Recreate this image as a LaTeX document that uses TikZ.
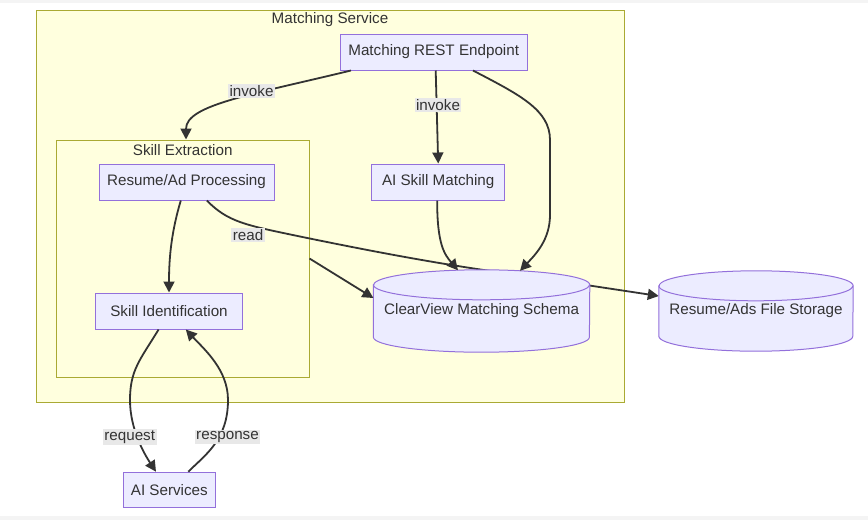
\documentclass[tikz,border=0pt]{standalone}
\usepackage{fontspec}
\setmainfont{Liberation Sans}
\usepackage{xcolor}
\usetikzlibrary{arrows.meta, calc}

\definecolor{clusterfill}{HTML}{FFFFDE}
\definecolor{clusterline}{HTML}{AAAA33}
\definecolor{nodefill}{HTML}{ECECFF}
\definecolor{nodeline}{HTML}{9370DB}
\definecolor{edgegray}{HTML}{333333}
\definecolor{textgray}{HTML}{333333}
\definecolor{labelbg}{HTML}{E8E8E8}
\definecolor{bandgray}{HTML}{F4F4F4}

\begin{document}
\begin{tikzpicture}[
  x=1pt, y=-1pt,
  % Base style for boxes
  basebox/.style={draw=nodeline, fill=nodefill, line width=1pt, text=textgray,
    font=\fontsize{15.2}{18}\selectfont, minimum height=36pt, inner sep=0pt},
  % Subgraph frames
  cluster/.style={draw=clusterline, fill=clusterfill, line width=1pt, inner sep=0pt},
  clustertitle/.style={text=textgray, font=\fontsize{15.2}{18}\selectfont, inner sep=0pt},
  % Databases
  dbspace/.style={draw=none, inner sep=0pt},
  dbshape/.style={draw=nodeline, fill=nodefill, line width=1pt},
  dbtext/.style={text=textgray, font=\fontsize{15.2}{18}\selectfont, inner sep=0pt},
  % Connectors and their labels
  flow/.style={draw=edgegray, line width=1.8pt, -{Triangle[length=11pt,width=11pt]}},
  edgelabel/.style={fill=labelbg, text=textgray, font=\fontsize{15.2}{18}\selectfont, inner sep=1.5pt},
]

  % Page and grey bands
  \useasboundingbox (0,0) rectangle (868,520);
  \fill[white] (0,0) rectangle (868,520);
  \fill[bandgray] (0,0) rectangle (868,2.5);
  \fill[bandgray] (0,515.5) rectangle (868,520);

  % Matching service cluster
  \node[cluster, minimum width=588pt, minimum height=392pt] (service) at (330,206) {};
  \node[clustertitle] (servicetitle) at (330,20) {Matching Service};

  % Skill extraction cluster
  \node[cluster, minimum width=253pt, minimum height=237pt] (skill) at (182.5,258.5) {};
  \node[clustertitle] (skilltitle) at (182.7,150) {Skill Extraction};

  % Blocks
  \node[basebox, minimum width=187pt] (rest) at (433.7,52) {Matching REST Endpoint};
  \node[basebox, minimum width=175pt] (proc) at (186.5,182) {Resume/Ad Processing};
  \node[basebox, minimum width=133pt] (aimatch) at (438.2,182) {AI Skill Matching};
  \node[basebox, minimum width=147pt] (skillid) at (169,311) {Skill Identification};
  \node[basebox, minimum width=92pt, minimum height=35pt] (aisvc) at (169.3,489.7) {AI Services};

  % Space taken by the databases
  \node[dbspace, minimum width=216pt, minimum height=82pt] (schema) at (481.6,311) {};
  \node[dbspace, minimum width=194pt, minimum height=80pt] (storage) at (756,311) {};

  % Read edge runs behind the schema
  \draw[flow] ([xshift=20.3pt]proc.south) .. controls (228,222) and (245,225) .. (300,236.5)
    .. controls (380,253) and (450,266) .. (520,275) -- ([yshift=15pt]storage.west);

  % Cylinders
  \foreach \db/\rx in {schema/108, storage/97} {
    \path[dbshape] ([yshift=-15pt]\db.north west) -- ([yshift=15pt]\db.south west)
      arc[start angle=180, end angle=360, x radius=\rx pt, y radius=15pt]
      -- ([yshift=-15pt]\db.north east)
      arc[start angle=0, end angle=180, x radius=\rx pt, y radius=15pt] -- cycle;
    \draw[dbshape, fill=none] ([yshift=-15pt]\db.north west)
      arc[start angle=180, end angle=360, x radius=\rx pt, y radius=15pt];
  }
  \node[dbtext] (schematext) at (schema.center) {ClearView Matching Schema};
  \node[dbtext] (storagetext) at (storage.center) {Resume/Ads File Storage};

  % Connectors
  \draw[flow] ([xshift=-82.7pt]rest.south) .. controls (250,95) and (186,105) .. ([xshift=3.5pt]skill.north);
  \draw[flow] ([xshift=2pt]rest.south) -- (aimatch.north);
  \draw[flow] ([xshift=39.3pt]rest.south) .. controls (520,95) and (550,110) .. (550,140)
    -- (550,215) .. controls (550,240) and (535,255) .. ([xshift=38.4pt,yshift=-1pt]schema.north);
  \draw[flow] ([xshift=-5.7pt]proc.south) .. controls (172,230) and (169,255) .. (skillid.north);
  \draw[flow] (skill.east) -- ([yshift=13pt]schema.west);
  \draw[flow] ([xshift=-1pt]aimatch.south) .. controls (437,245) and (445,255) .. ([xshift=-23.6pt,yshift=-0.5pt]schema.north);
  \draw[flow] ([xshift=-10.4pt]skillid.south) .. controls (140,360) and (130,370) .. (130,400)
    .. controls (130,430) and (145,455) .. ([xshift=-13.3pt]aisvc.north);
  \draw[flow] ([xshift=19pt]aisvc.north) .. controls (205,455) and (228,440) .. (228,400)
    .. controls (228,370) and (205,350) .. ([xshift=16.8pt]skillid.south);

  % Edge labels
  \node[edgelabel] (invokeone) at (251.5,91) {invoke};
  \node[edgelabel] (invoketwo) at (438,105) {invoke};
  \node[edgelabel] (readlabel) at (248,235) {read};
  \node[edgelabel] (requestlabel) at (129.7,437) {request};
  \node[edgelabel] (responselabel) at (227.5,437) {response};

\end{tikzpicture}
\end{document}
